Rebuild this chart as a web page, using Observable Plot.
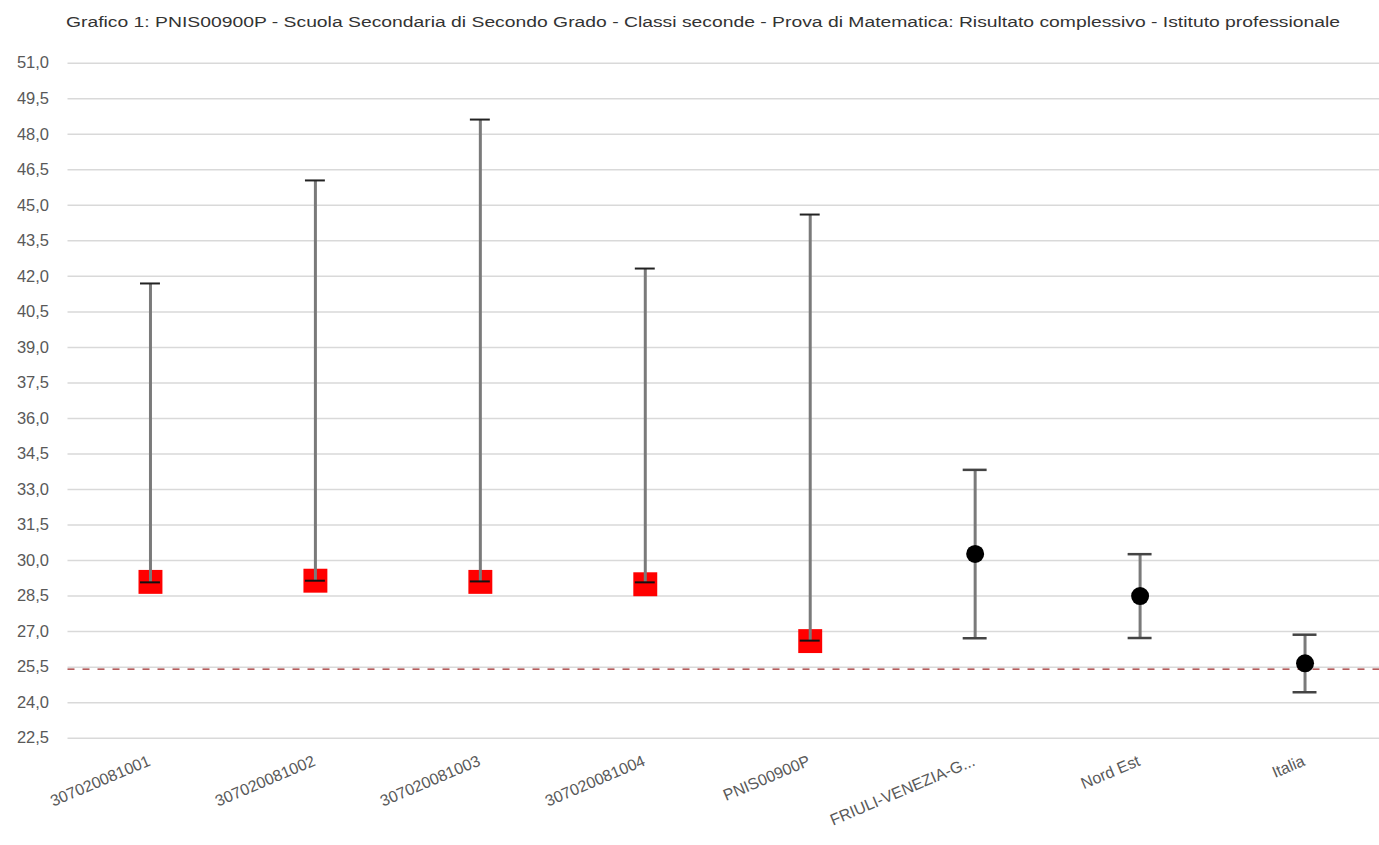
<!DOCTYPE html>
<html>
<head>
<meta charset="utf-8">
<script src="https://cdn.jsdelivr.net/npm/d3@7"></script>
<script src="https://cdn.jsdelivr.net/npm/@observablehq/plot@0.6"></script>
<style>
  html, body { margin: 0; padding: 0; background: #fff; overflow: hidden; }
  #title { display: block; }
</style>
</head>
<body>
<svg id="title" width="1379" height="40">
  <text x="66" y="27" textLength="1274" lengthAdjust="spacingAndGlyphs"
        font-family="Liberation Sans, Arial, sans-serif" font-size="15.5" fill="#333">Grafico 1: PNIS00900P - Scuola Secondaria di Secondo Grado - Classi seconde - Prova di Matematica: Risultato complessivo - Istituto professionale</text>
</svg>
<div id="chart"></div>
<script>
// ---- data ----
const categories = ["307020081001", "307020081002", "307020081003", "307020081004", "PNIS00900P", "FRIULI-VENEZIA-G...", "Nord Est", "Italia"];
const means = [29.1, 29.15, 29.1, 29.0, 26.6, 30.28, 28.5, 25.66];
const lows  = [29.08, 29.15, 29.12, 29.08, 26.62, 26.72, 26.73, 24.44];
const highs = [41.7, 46.05, 48.62, 42.33, 44.61, 33.83, 30.27, 26.87];
const markerKinds = ["square", "square", "square", "square", "square", "circle", "circle", "circle"];
const yTicks = [22.5, 24.0, 25.5, 27.0, 28.5, 30.0, 31.5, 33.0, 34.5, 36.0, 37.5, 39.0, 40.5, 42.0, 43.5, 45.0, 46.5, 48.0, 49.5, 51.0];
const referenceLine = [25.42];

const rows = categories.map((c, i) => ({cat: c, mean: means[i], low: lows[i], high: highs[i], kind: markerKinds[i]}));
const squares = rows.filter(d => d.kind === "square");
const circles = rows.filter(d => d.kind === "circle");

const chart = Plot.plot({
  width: 1379,
  height: 805,
  marginTop: 22.7,
  marginBottom: 107.3,
  marginLeft: 67.5,
  marginRight: -8,
  style: {fontFamily: "Liberation Sans, Arial, sans-serif", background: "#fff"},
  x: {type: "band", domain: categories, padding: 0, round: false, axis: null},
  y: {domain: [22.5, 51], axis: null},
  marks: [
    Plot.gridY(yTicks, {stroke: "#d9d9d9", strokeOpacity: 1, strokeWidth: 1.5}),
    Plot.axisY(yTicks, {tickSize: 0, tickPadding: 19, fontSize: 16.5, fill: "#595959",
      tickFormat: d => d.toFixed(1).replace(".", ",")}),
    Plot.text(categories, {x: d => d, frameAnchor: "bottom", dx: -1, dy: 22, rotate: -23,
      textAnchor: "end", lineAnchor: "middle", fontSize: 16, fill: "#595959"}),
    Plot.ruleY(referenceLine, {stroke: "#9e2a2a", strokeDasharray: "7,8", strokeWidth: 1.2}),
    Plot.dot(squares, {x: "cat", y: "mean", symbol: "square", r: 13.5, fill: "#ff0000", stroke: "none"}),
    Plot.ruleX(rows, {x: "cat", y1: "low", y2: "high", stroke: "#7a7a7a", strokeWidth: 3}),
    Plot.tickY(squares, {x: "cat", y: "high", stroke: "#222", strokeWidth: 2, insetLeft: 72.5, insetRight: 72.5}),
    Plot.tickY(squares, {x: "cat", y: "low", stroke: "#111", strokeWidth: 2, insetLeft: 72.5, insetRight: 72.5}),
    Plot.tickY(circles, {x: "cat", y: "high", stroke: "#444", strokeWidth: 2.5, insetLeft: 70.5, insetRight: 70.5}),
    Plot.tickY(circles, {x: "cat", y: "low", stroke: "#444", strokeWidth: 2.5, insetLeft: 70.5, insetRight: 70.5}),
    Plot.dot(circles, {x: "cat", y: "mean", r: 9, fill: "#000", stroke: "none"})
  ]
});
document.getElementById("chart").appendChild(chart);
</script>
</body>
</html>
